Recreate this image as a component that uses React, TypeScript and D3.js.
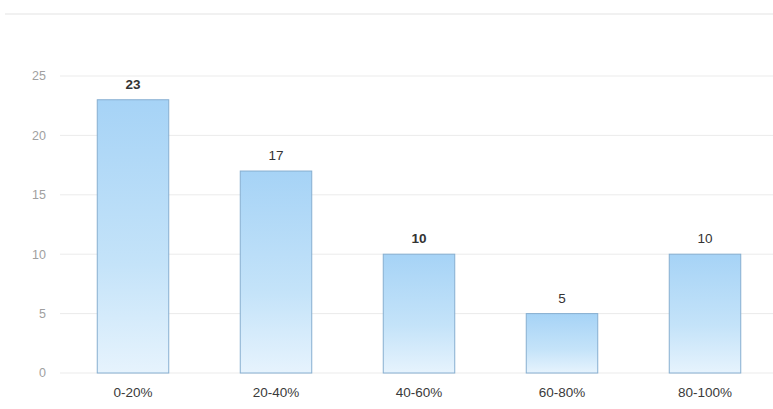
import React from "react";
import * as d3 from "d3";

const categories = ["0-20%", "20-40%", "40-60%", "60-80%", "80-100%"];
const values = [23, 17, 10, 5, 10];
const boldLabels = [true, false, true, false, false];
const yTicks = [0, 5, 10, 15, 20, 25];

const W = 773;
const H = 409;

export default function App() {
  const x = d3.scaleBand<string>().domain(categories).range([61.5, 776.5]).paddingInner(0.5).paddingOuter(0.25);
  const y = d3.scaleLinear().domain([0, 25]).range([373, 76]);

  return (
    <svg width={W} height={H} style={{ position: "absolute", left: 0, top: 0, background: "#fff" }}
      fontFamily="'Liberation Sans', Arial, sans-serif">
      <defs>
        <linearGradient id="barGrad" x1="0" y1="0" x2="0" y2="1">
          <stop offset="0%" stopColor="#a6d3f6" />
          <stop offset="60%" stopColor="#c4e3f9" />
          <stop offset="100%" stopColor="#e6f3fd" />
        </linearGradient>
      </defs>
      <rect x={0} y={0} width={W} height={H} fill="#fff" />
      <line x1={5} x2={W} y1={14} y2={14} stroke="#ececec" strokeWidth={1.5} />
      {yTicks.map((t) => (
        <g key={t}>
          <line x1={60} x2={W} y1={y(t)} y2={y(t)} stroke="#ebebeb" strokeWidth={1} />
          <text x={46} y={y(t)} dy="0.35em" textAnchor="end" fontSize={12.5} fill="#a0a0a0">{t}</text>
        </g>
      ))}
      {categories.map((c, i) => {
        const bx = x(c)!;
        const bw = x.bandwidth();
        const by = y(values[i]);
        return (
          <g key={c}>
            <rect x={bx} y={by} width={bw} height={y(0) - by} fill="url(#barGrad)" stroke="#86aed0" strokeWidth={1} />
            <text x={bx + bw / 2} y={by - 11} textAnchor="middle" fontSize={13.5}
              fontWeight={boldLabels[i] ? "bold" : "normal"} fill="#333">{values[i]}</text>
            <text x={bx + bw / 2} y={392} dy="0.35em" textAnchor="middle" fontSize={13.5} fill="#3a3a3a">{c}</text>
          </g>
        );
      })}
    </svg>
  );
}
